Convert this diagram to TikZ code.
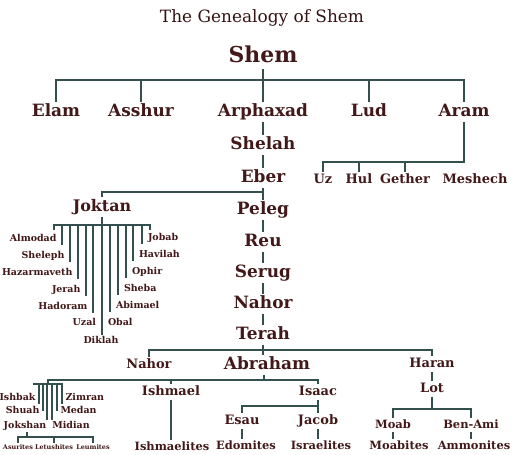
\documentclass[tikz,border=0pt]{standalone}
\usepackage{fontspec}
\setmainfont{DejaVu Serif}
\usepackage{tikz}
\usetikzlibrary{positioning}
\definecolor{shemtext}{RGB}{66,24,24}
\definecolor{shemline}{RGB}{52,80,78}
\tikzset{
  gline/.style ={line width=2.6bp, shemline},
  gname/.style ={inner sep=1.5bp, outer sep=0.5bp, text=shemtext,
                 font=\bfseries\fontsize{#1}{#1}\selectfont,
                 text height=0.74*#1bp, text depth=0.2*#1bp},
  pbig/.style  ={gname=22},
  pmain/.style ={gname=17},
  pmid/.style  ={gname=13},
  psub/.style  ={gname=11.5},
  pson/.style  ={gname=9.5},
  ptiny/.style ={gname=6.5},
  ptitle/.style={inner sep=1bp, text=shemtext!80!black, font=\fontsize{17}{17}\selectfont},
}

\begin{document}
\begin{tikzpicture}[x=1bp, y=-1bp]
  \fill[white] (0,0) rectangle (512,455);
  \useasboundingbox (0,0) rectangle (512,455);

  \node[ptitle] (title) at (262,18) {The Genealogy of Shem};

  % ---- Shem and his five sons ----------------------------------------------
  \node[pbig]  (shem)   at (263,57)  {Shem};
  \node[pmain] (elam)   at (56,112)  {Elam};
  \node[pmain] (asshur) at (141,112) {Asshur};
  \node[pmain] (arph)   at (263,112) {Arphaxad};
  \node[pmain] (lud)    at (369,112) {Lud};
  \node[pmain] (aram)   at (464,112) {Aram};
  \coordinate (sbar) at (263,80);
  \draw[gline] (shem) -- (sbar);
  \draw[gline] (elam) |- (sbar) -| (aram);
  \draw[gline] (sbar -| asshur) -- (asshur);
  \draw[gline] (sbar) -- (arph);
  \draw[gline] (sbar -| lud) -- (lud);

  % ---- the line down to Terah ----------------------------------------------
  \node[pmain] (shelah) at (263,145) {Shelah};
  \node[pmain] (eber)   at (263,178) {Eber};
  \node[pmain] (peleg)  at (263,210) {Peleg};
  \node[pmain] (reu)    at (263,242) {Reu};
  \node[pmain] (serug)  at (263,273) {Serug};
  \node[pmain] (nahor)  at (263,304) {Nahor};
  \node[pmain] (terah)  at (263,335) {Terah};
  \draw[gline] (arph) -- (shelah) -- (eber) -- (peleg) -- (reu)
               -- (serug) -- (nahor) -- (terah);

  % ---- Aram ----------------------------------------------------------------
  \coordinate (abar) at (464,162);
  \node[pmid] (uz)      at (323,180) {Uz};
  \node[pmid] (hul)     at (359,180) {Hul};
  \node[pmid] (gether)  at (405,180) {Gether};
  \node[pmid] (meshech) at (475,180) {Meshech};
  \draw[gline] (aram) -- (abar) -| (uz);
  \draw[gline] (abar -| hul) -- (hul);
  \draw[gline] (abar -| gether) -- (gether);

  % ---- Joktan and his thirteen sons ----------------------------------------
  \coordinate (ebj) at (263,192);
  \node[gname=16] (joktan) at (102,207) {Joktan};
  \draw[gline] (ebj) -| (joktan);
  \coordinate (jbar) at (102,225);
  \coordinate (jtl) at (54,230);
  \coordinate (jtr) at (150,230);
  \draw[gline] (joktan) -- (jbar);
  \draw[gline] (jtl) |- (jbar) -| (jtr);
  \foreach \xx/\nm [count=\i from 0] in {62/Almodad,70/Sheleph,78/Hazarmaveth,86/Jerah,93/Hadoram} {
    \coordinate (l\i) at (\xx,225);
    \node[pson, anchor=east] (ls\i) at ({\xx-3.5},{239+17*\i}) {\nm};
    \draw[gline] (l\i) -- (l\i |- ls\i.south);
  }
  \foreach \xx/\nm [count=\i from 0] in {110/Abimael,118/Sheba,126/Ophir,133/Havilah,142/Jobab} {
    \coordinate (r\i) at (\xx,225);
    \node[pson, anchor=west] (rs\i) at ({\xx+4},{306-17*\i}) {\nm};
    \draw[gline] (r\i) -- (r\i |- rs\i.south);
  }
  \node[pson, anchor=east] (uzal)   at (98,323)  {Uzal};
  \node[pson, anchor=west] (obal)   at (106,323) {Obal};
  \node[pson]              (diklah) at (101,341) {Diklah};
  \draw[gline] (jbar) -- (jbar |- diklah.north);

  % ---- Terah's sons --------------------------------------------------------
  \coordinate (tbar) at (263,350);
  \node[pmid]    (nahorb)  at (149,365) {Nahor};
  \node[gname=17] (abraham) at (267,365) {Abraham};
  \node[pmid]    (haran)   at (432,364) {Haran};
  \draw[gline] (terah) -- (tbar);
  \draw[gline] (nahorb) |- (tbar) -| (haran);
  \draw[gline] (tbar) -- (tbar |- abraham.north);

  % ---- Lot -----------------------------------------------------------------
  \node[pmid] (lot) at (432,389) {Lot};
  \draw[gline] (haran) -- (lot);
  \coordinate (lbar) at (432,409);
  \node[psub] (moab)      at (393,425) {Moab};
  \node[psub] (benami)    at (471,425) {Ben-Ami};
  \node[psub] (moabites)  at (399,446) {Moabites};
  \node[psub] (ammonites) at (474,446) {Ammonites};
  \draw[gline] (lot) -- (lbar);
  \draw[gline] (moab) |- (lbar) -| (benami);
  \draw[gline] (moab) -- (moab |- moabites.north);
  \draw[gline] (benami) -- (benami |- ammonites.north);

  % ---- Abraham's sons ------------------------------------------------------
  \coordinate (abbar) at (264,380);
  \coordinate (ketbar) at (48,384);
  \node[pmid] (ishmael) at (171,392) {Ishmael};
  \node[pmid] (isaac)   at (318,392) {Isaac};
  \draw[gline] (abbar |- abraham.south) -- (abbar);
  \draw[gline] (ketbar) |- (abbar) -| (isaac);
  \draw[gline] (abbar -| ishmael) -- (ishmael);
  \node[psub] (ishmaelites) at (172,447) {Ishmaelites};
  \draw[gline] (ishmael) -- (ishmael |- ishmaelites.north);

  \node[pmid] (esau)  at (242,421) {Esau};
  \node[pmid] (jacob) at (318,421) {Jacob};
  \coordinate (esbar) at (318,406);
  \draw[gline] (isaac) -- (jacob);
  \draw[gline] (esbar) -| (esau);
  \node[psub] (edomites)   at (246,446) {Edomites};
  \node[psub] (israelites) at (321,446) {Israelites};
  \draw[gline] (esau) -- (esau |- edomites.north);
  \draw[gline] (jacob) -- (jacob |- israelites.north);

  % ---- Keturah's sons ------------------------------------------------------
  \coordinate (k0) at (39,384);
  \coordinate (k1) at (43,384);
  \coordinate (k2) at (47,384);
  \coordinate (k3) at (52,384);
  \coordinate (k4) at (57,384);
  \coordinate (k5) at (62,384);
  \draw[gline] ([xshift=-6bp]k0) -- ([xshift=1bp]k5);
  \node[pson, anchor=east] (ishbak) at (37.5,398) {Ishbak};
  \node[pson, anchor=east] (shuah)  at (41.5,411) {Shuah};
  \node[pson]              (jokshan) at (25,426)  {Jokshan};
  \node[pson]              (midian) at (71,426)   {Midian};
  \node[pson, anchor=west] (medan)  at (58.5,411) {Medan};
  \node[pson, anchor=west] (zimran) at (63.5,398) {Zimran};
  \draw[gline] (k0) -- (k0 |- ishbak.south);
  \draw[gline] (k1) -- (k1 |- shuah.center);
  \draw[gline] (k2) -- (k2 |- jokshan.north);
  \draw[gline] (k3) -- (k3 |- midian.north);
  \draw[gline] (k4) -- (k4 |- medan.center);
  \draw[gline] (k5) -- (k5 |- zimran.south);

  \node[ptiny] (asur) at (18,448) {Asurites};
  \node[ptiny] (letu) at (54,448) {Letushites};
  \node[ptiny] (leum) at (93,448) {Leumites};
  \coordinate (jkbar) at (27,437);
  \draw[gline] (jkbar |- jokshan.south) -- (jkbar);
  \draw[gline] (asur) |- (jkbar) -| (leum);
  \draw[gline] (jkbar -| letu) -- (letu);
\end{tikzpicture}
\end{document}
